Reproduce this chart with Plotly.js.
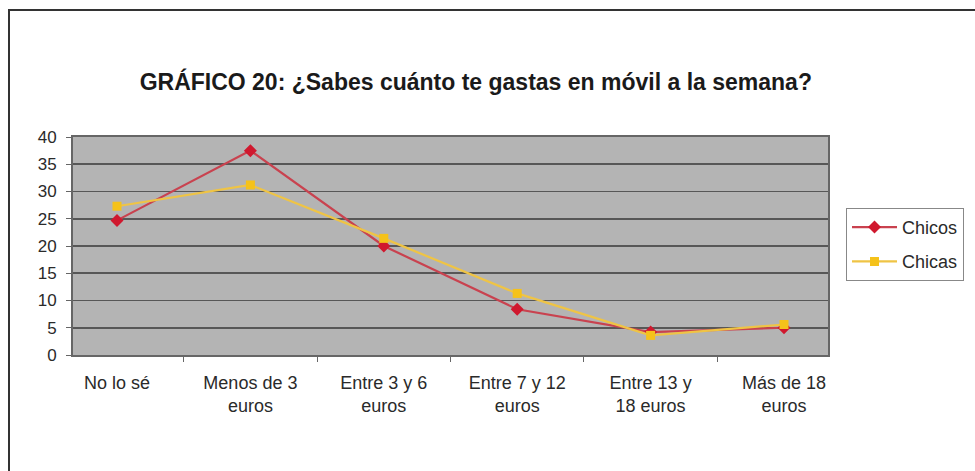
<!DOCTYPE html>
<html>
<head>
<meta charset="utf-8">
<script src="https://cdn.plot.ly/plotly-3.0.1.min.js"></script>
<style>
html,body{margin:0;padding:0;background:#fff;}
#wrap{position:relative;width:975px;height:471px;overflow:hidden;}
#frame{position:absolute;left:8px;top:9px;width:980px;height:480px;border-left:2px solid #333;border-top:2px solid #333;pointer-events:none;z-index:5;}
#chart{position:absolute;left:0;top:0;width:975px;height:471px;}
</style>
</head>
<body>
<div id="wrap">
<div id="chart"></div>
<div id="frame"></div>
</div>
<script>
const categories = ["No lo sé", "Menos de 3<br>euros", "Entre 3 y 6<br>euros", "Entre 7 y 12<br>euros", "Entre 13 y<br>18 euros", "Más de 18<br>euros"];
const chicos = [24.7, 37.5, 20.0, 8.4, 4.2, 5.0];
const chicas = [27.3, 31.2, 21.4, 11.3, 3.6, 5.6];
const yTicks = [0, 5, 10, 15, 20, 25, 30, 35, 40];

const traces = [
  {
    x: categories, y: chicos, name: "Chicos", type: "scatter", mode: "lines+markers",
    legendgroup: "a",
    line: {color: "#c9424f", width: 2.2},
    marker: {symbol: "diamond", size: 10, color: "#d0182e"}
  },
  {
    x: categories, y: chicas, name: "Chicas", type: "scatter", mode: "lines+markers",
    legendgroup: "b",
    line: {color: "#efc445", width: 2.2},
    marker: {symbol: "square", size: 9, color: "#f5c21a"}
  }
];

const layout = {
  width: 975, height: 471,
  paper_bgcolor: "#ffffff",
  plot_bgcolor: "#b4b4b4",
  margin: {l: 73, r: 146, t: 137, b: 116},
  font: {family: "Liberation Sans, Arial, sans-serif", size: 17, color: "#2a2a2a"},
  title: {
    text: "<b>GRÁFICO 20: ¿Sabes cuánto te gastas en móvil a la semana?</b>",
    font: {family: "Liberation Sans, Arial, sans-serif", size: 23, color: "#1a1a1a"},
    x: 0.488, xanchor: "center", y: 0.826, yanchor: "middle"
  },
  xaxis: {
    type: "category",
    tickson: "boundaries",
    ticks: "outside", ticklen: 5, tickcolor: "#666",
    showline: true, linecolor: "#666", linewidth: 2,
    showgrid: false,
    mirror: true,
    tickfont: {size: 18, color: "#2a2a2a"},
    ticklabelstandoff: 10,
    fixedrange: true
  },
  yaxis: {
    range: [0, 40],
    tickvals: yTicks,
    ticks: "outside", ticklen: 5, tickcolor: "#666",
    showline: true, linecolor: "#666", linewidth: 2,
    mirror: true,
    gridcolor: "#575757", gridwidth: 1.8,
    zeroline: false,
    tickfont: {size: 17, color: "#2a2a2a"},
    ticklabelstandoff: 6,
    fixedrange: true
  },
  showlegend: true,
  legend: {
    x: 1.0225, xanchor: "left", y: 0.675, yanchor: "top",
    bordercolor: "#888", borderwidth: 1, bgcolor: "#ffffff",
    font: {size: 18, color: "#2a2a2a"},
    traceorder: "grouped",
    tracegroupgap: 8,
    itemwidth: 45
  }
};

Plotly.newPlot("chart", traces, layout, {staticPlot: true, displayModeBar: false});
</script>
</body>
</html>
